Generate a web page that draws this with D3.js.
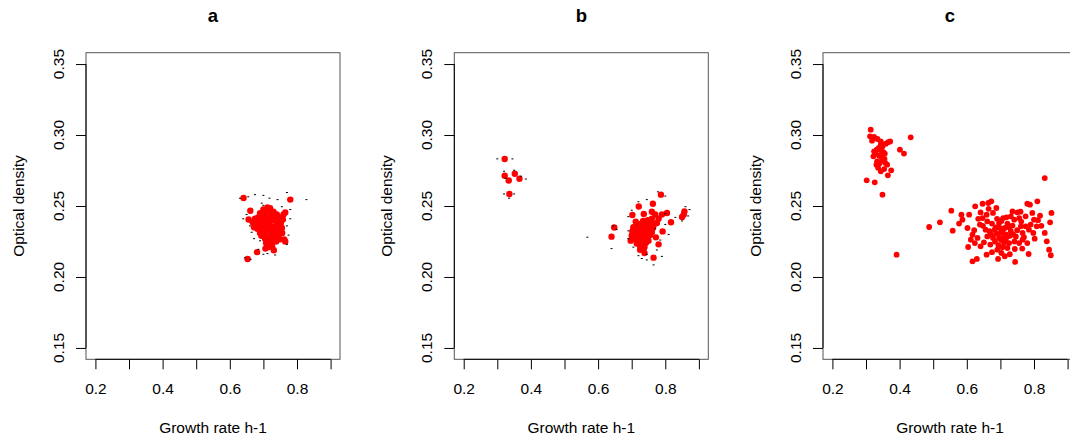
<!DOCTYPE html>
<html>
<head>
<meta charset="utf-8">
<script src="https://cdn.jsdelivr.net/npm/d3@7"></script>
<style>
  body { margin: 0; background: #fff; }
  svg text { font-family: "Liberation Sans", Arial, sans-serif; fill: #000; }
</style>
</head>
<body>
<svg id="canvas" width="1070" height="439"></svg>
<script>
"use strict";

const panelTitles = ["a", "b", "c"];
const xTicks = [0.2, 0.3, 0.4, 0.5, 0.6, 0.7, 0.8, 0.9];
const xTickLabels = ["0.2", "", "0.4", "", "0.6", "", "0.8", ""];
const yTicks = [0.15, 0.20, 0.25, 0.30, 0.35];
const yTickLabels = ["0.15", "0.20", "0.25", "0.30", "0.35"];
const xTitle = "Growth rate h-1";
const yTitle = "Optical density";

// panel a: growth rate, optical density
const pointsA = [
  [0.641,0.2556],[0.780,0.2545],[0.661,0.2467],[0.656,0.2405],[0.668,0.2385],[0.653,0.2127],
  [0.681,0.2175],[0.706,0.2200],[0.731,0.2188],[0.765,0.2250],[0.762,0.2265],[0.765,0.2455],
  [0.690,0.2450],[0.700,0.2475],[0.712,0.2490],[0.720,0.2485],[0.705,0.2440],[0.725,0.2445],
  [0.735,0.2420],[0.745,0.2400],[0.752,0.2380],[0.740,0.2360],[0.755,0.2345],[0.748,0.2320],
  [0.732,0.2300],[0.722,0.2280],[0.715,0.2260],[0.708,0.2240],[0.718,0.2230],[0.728,0.2250],
  [0.738,0.2275],[0.745,0.2290],[0.756,0.2310],[0.700,0.2350],[0.690,0.2330],[0.682,0.2340],
  [0.678,0.2360],[0.685,0.2385],[0.695,0.2400],[0.710,0.2390],[0.718,0.2370],[0.728,0.2355],
  [0.712,0.2330],[0.702,0.2310],[0.694,0.2290],[0.722,0.2320],[0.736,0.2395],[0.748,0.2420],
  [0.760,0.2440],[0.675,0.2410],[0.715,0.2465],[0.730,0.2460],[0.742,0.2345],[0.705,0.2270],
  [0.726,0.2215],[0.698,0.2420],[0.688,0.2365],[0.698,0.2375],[0.708,0.2365],[0.720,0.2350],
  [0.732,0.2335],[0.744,0.2325],[0.752,0.2355],[0.738,0.2250],[0.712,0.2285],[0.700,0.2330],
  [0.725,0.2400],[0.705,0.2410],[0.716,0.2420],[0.728,0.2430],[0.740,0.2440],[0.722,0.2265],
  [0.734,0.2265],[0.714,0.2210],[0.694,0.2355],[0.758,0.2405],[0.690,0.2310],[0.750,0.2265],
  [0.672,0.2350],[0.684,0.2420],[0.724,0.2310],[0.736,0.2320],[0.713,0.2345],[0.746,0.2380]
];
const marksA = [
  [0.630,0.2555],[0.655,0.2565],[0.675,0.2580],[0.700,0.2575],[0.718,0.2555],[0.742,0.2545],
  [0.770,0.2595],[0.828,0.2545],[0.650,0.2440],[0.640,0.2410],[0.660,0.2360],[0.665,0.2315],
  [0.672,0.2270],[0.690,0.2255],[0.685,0.2195],[0.700,0.2160],[0.735,0.2155],[0.712,0.2165],
  [0.770,0.2230],[0.775,0.2295],[0.770,0.2360],[0.780,0.2410],[0.780,0.2475],[0.755,0.2495],
  [0.695,0.2520],[0.700,0.2505],[0.662,0.2125],[0.645,0.2135]
];

// panel b
const pointsB = [
  [0.322,0.2831],[0.322,0.2713],[0.352,0.2727],[0.334,0.2680],[0.366,0.2692],[0.336,0.2585],
  [0.787,0.2580],[0.763,0.2516],[0.721,0.2497],[0.702,0.2437],[0.736,0.2444],[0.805,0.2451],
  [0.857,0.2462],[0.850,0.2423],[0.817,0.2385],[0.792,0.2321],[0.648,0.2349],[0.640,0.2284],
  [0.772,0.2279],[0.780,0.2230],[0.765,0.2136],[0.738,0.2169],[0.725,0.2192],[0.697,0.2256],
  [0.760,0.2460],[0.780,0.2410],[0.855,0.2440],[0.770,0.2440],[0.748,0.2400],[0.758,0.2380],
  [0.712,0.2390],[0.722,0.2370],[0.735,0.2360],[0.745,0.2350],[0.705,0.2350],[0.715,0.2330],
  [0.728,0.2320],[0.740,0.2310],[0.752,0.2330],[0.765,0.2360],[0.775,0.2380],[0.702,0.2320],
  [0.710,0.2300],[0.720,0.2290],[0.732,0.2280],[0.745,0.2275],[0.755,0.2295],[0.708,0.2270],
  [0.718,0.2255],[0.730,0.2245],[0.742,0.2240],[0.725,0.2220],[0.738,0.2210],[0.715,0.2235],
  [0.700,0.2290],[0.726,0.2340],[0.734,0.2395],[0.760,0.2315],[0.790,0.2440],[0.750,0.2255],
  [0.712,0.2360],[0.724,0.2305],[0.736,0.2300],[0.748,0.2320],[0.716,0.2310],[0.730,0.2265],
  [0.704,0.2330],[0.720,0.2335],[0.740,0.2335],[0.752,0.2365],[0.762,0.2340],[0.744,0.2380],
  [0.728,0.2375],[0.714,0.2275],[0.734,0.2230],[0.722,0.2245],[0.706,0.2305],[0.760,0.2410]
];
const marksB = [
  [0.568,0.2280],[0.640,0.2200],[0.655,0.2335],[0.645,0.2360],[0.690,0.2425],[0.700,0.2470],
  [0.720,0.2530],[0.745,0.2545],[0.778,0.2600],[0.800,0.2570],[0.830,0.2420],[0.868,0.2430],
  [0.872,0.2475],[0.860,0.2495],[0.790,0.2145],[0.765,0.2085],[0.745,0.2120],[0.720,0.2150],
  [0.705,0.2210],[0.690,0.2270],[0.690,0.2325],[0.800,0.2370],[0.810,0.2300],[0.785,0.2260],
  [0.775,0.2190],[0.745,0.2160],[0.730,0.2130],[0.770,0.2340],[0.800,0.2445],[0.850,0.2395],
  [0.300,0.2832],[0.345,0.2832],[0.320,0.2745],[0.350,0.2752],[0.385,0.2690],[0.370,0.2710],
  [0.320,0.2585],[0.350,0.2585],[0.335,0.2555],[0.325,0.2695]
];

// panel c
const pointsC = [
  [0.314,0.3038],[0.312,0.2991],[0.324,0.2986],[0.334,0.2972],[0.344,0.2955],[0.372,0.2955],
  [0.359,0.2939],[0.349,0.2920],[0.332,0.2897],[0.324,0.2885],[0.344,0.2892],[0.322,0.2850],
  [0.339,0.2854],[0.356,0.2869],[0.333,0.2815],[0.348,0.2822],[0.363,0.2791],[0.331,0.2791],
  [0.344,0.2744],[0.375,0.2751],[0.365,0.2716],[0.302,0.2681],[0.326,0.2667],[0.349,0.2580],
  [0.401,0.2897],[0.413,0.2869],[0.433,0.2984],[0.391,0.2157],[0.344,0.2932],[0.355,0.2831],
  [0.832,0.2697],[0.488,0.2352],[0.520,0.2385],[0.554,0.2467],[0.558,0.2326],[0.577,0.2376],
  [0.584,0.2439],[0.587,0.2404],[0.607,0.2439],[0.625,0.2498],[0.602,0.2345],[0.617,0.2298],
  [0.604,0.2211],[0.617,0.2110],[0.630,0.2127],[0.647,0.2516],[0.664,0.2521],[0.673,0.2533],
  [0.641,0.2455],[0.659,0.2439],[0.678,0.2451],[0.688,0.2486],[0.639,0.2369],[0.656,0.2333],
  [0.632,0.2275],[0.651,0.2244],[0.641,0.2216],[0.670,0.2228],[0.659,0.2157],[0.678,0.2275],
  [0.683,0.2333],[0.696,0.2380],[0.708,0.2415],[0.713,0.2345],[0.701,0.2310],[0.721,0.2286],
  [0.711,0.2239],[0.691,0.2192],[0.703,0.2169],[0.693,0.2127],[0.713,0.2146],[0.731,0.2322],
  [0.736,0.2362],[0.741,0.2404],[0.736,0.2462],[0.751,0.2455],[0.756,0.2415],[0.746,0.2286],
  [0.756,0.2239],[0.743,0.2197],[0.744,0.2106],[0.766,0.2310],[0.775,0.2427],[0.780,0.2516],
  [0.788,0.2509],[0.790,0.2369],[0.775,0.2357],[0.800,0.2404],[0.810,0.2533],[0.818,0.2432],
  [0.808,0.2357],[0.798,0.2310],[0.784,0.2162],[0.832,0.2310],[0.838,0.2251],[0.852,0.2451],
  [0.848,0.2385],[0.845,0.2192],[0.850,0.2153],[0.661,0.2286],[0.675,0.2376],[0.721,0.2376],
  [0.726,0.2239],[0.766,0.2263],[0.785,0.2333],[0.696,0.2275],[0.668,0.2322],[0.612,0.2263],
  [0.624,0.2239],[0.706,0.2322],[0.731,0.2427],[0.761,0.2357],[0.708,0.2275],[0.688,0.2305],
  [0.721,0.2204],[0.795,0.2451],[0.780,0.2239],[0.661,0.2392],[0.647,0.2415],
  [0.338,0.2910],[0.352,0.2880],[0.328,0.2870],[0.346,0.2845],[0.340,0.2800],[0.357,0.2805],
  [0.336,0.2770],[0.318,0.2960],[0.366,0.2950],[0.354,0.2760],
  [0.686,0.2350],[0.698,0.2345],[0.716,0.2300],[0.728,0.2290],[0.702,0.2260],[0.716,0.2260],
  [0.694,0.2225],[0.706,0.2210],[0.684,0.2250],[0.672,0.2300],[0.690,0.2410],[0.703,0.2395],
  [0.726,0.2350],[0.738,0.2300],[0.750,0.2330],[0.762,0.2390],[0.770,0.2280],[0.728,0.2160],
  [0.665,0.2480],[0.648,0.2360],[0.634,0.2410],[0.622,0.2330],[0.718,0.2420],[0.760,0.2460],
  [0.742,0.2250],[0.812,0.2400],[0.802,0.2270],[0.822,0.2360],[0.765,0.2200],[0.675,0.2175]
];
const marksC = [];

const panelPoints = [pointsA, pointsB, pointsC];
const panelMarks = [marksA, marksB, marksC];
const panelLefts = [86, 454.3, 823];
const pointRadius = [3.2, 3.2, 2.9];

const boxWidth = 254, boxTop = 52.7, boxBottom = 359.3;
const svg = d3.select("#canvas");

const drawPanel = (i) => {
  const left = panelLefts[i];
  const x = d3.scaleLinear().domain([0.172, 0.928]).range([left, left + boxWidth]);
  const y = d3.scaleLinear().domain([0.142, 0.358]).range([boxBottom, boxTop]);
  const g = svg.append("g");

  // plot box
  g.append("rect")
    .attr("x", left).attr("y", boxTop)
    .attr("width", boxWidth).attr("height", boxBottom - boxTop)
    .attr("fill", "none").attr("stroke", "#555").attr("stroke-width", 1);

  // x axis
  const xa = g.append("g")
    .attr("transform", `translate(0,${boxBottom})`)
    .call(d3.axisBottom(x).tickValues(xTicks).tickSize(10).tickPadding(13.5)
      .tickFormat((d, k) => xTickLabels[k]));
  xa.select(".domain").remove();
  xa.selectAll("line").attr("stroke", "#000");
  xa.selectAll("text").style("font-size", "15.5px");
  xa.append("line")
    .attr("x1", x(xTicks[0])).attr("x2", x(xTicks[xTicks.length - 1]))
    .attr("stroke", "#000");

  // y axis
  const ya = g.append("g")
    .attr("transform", `translate(${left},0)`)
    .call(d3.axisLeft(y).tickValues(yTicks).tickSize(10).tickFormat(""));
  ya.select(".domain").remove();
  ya.selectAll("line").attr("stroke", "#000");
  ya.append("line")
    .attr("y1", y(yTicks[0])).attr("y2", y(yTicks[yTicks.length - 1]))
    .attr("stroke", "#000");
  ya.selectAll(".ylab")
    .data(yTicks)
    .enter()
    .append("text")
    .attr("class", "ylab")
    .attr("transform", d => `translate(-22,${y(d)}) rotate(-90)`)
    .attr("text-anchor", "middle")
    .style("font-size", "15.5px")
    .text((d, k) => yTickLabels[k]);

  // titles
  g.append("text")
    .attr("x", left + boxWidth / 2).attr("y", 22)
    .attr("text-anchor", "middle")
    .style("font-size", "18.5px").style("font-weight", "bold")
    .text(panelTitles[i]);
  g.append("text")
    .attr("x", left + boxWidth / 2).attr("y", 433)
    .attr("text-anchor", "middle")
    .style("font-size", "15.5px")
    .text(xTitle);
  g.append("text")
    .attr("transform", `translate(${left - 62.5},${(boxTop + boxBottom) / 2}) rotate(-90)`)
    .attr("text-anchor", "middle")
    .style("font-size", "15.5px")
    .text(yTitle);

  // points
  g.selectAll("circle")
    .data(panelPoints[i])
    .enter()
    .append("circle")
    .attr("cx", d => x(d[0]))
    .attr("cy", d => y(d[1]))
    .attr("r", pointRadius[i])
    .attr("fill", "#ff0000");

  // small black marks
  g.selectAll(".mark")
    .data(panelMarks[i])
    .enter()
    .append("rect")
    .attr("class", "mark")
    .attr("x", d => x(d[0]) - 1)
    .attr("y", d => y(d[1]) - 0.5)
    .attr("width", 2)
    .attr("height", 1)
    .attr("fill", "#000");
};

panelTitles.forEach((t, i) => drawPanel(i));
</script>
</body>
</html>
